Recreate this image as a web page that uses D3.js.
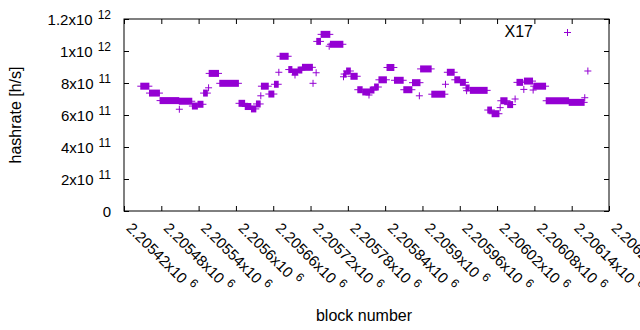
<!DOCTYPE html>
<html>
<head>
<meta charset="utf-8">
<script src="https://cdn.jsdelivr.net/npm/d3@7"></script>
<style>
  body { margin: 0; background: #fff; }
  svg text { font-family: "Liberation Sans", Arial, sans-serif; font-size: 15px; fill: #000; }
  svg text.title { font-size: 16px; }
</style>
</head>
<body>
<svg width="640" height="330"></svg>
<script>
// runs of blocks that share one hashrate estimate (start == end is a single point)
let runStart = [2205447, 2205461, 2205478, 2205509, 2205509, 2205530, 2205539, 2205548, 2205556, 2205557,
  2205574, 2205605, 2205615, 2205625, 2205633, 2205640, 2205641, 2205653, 2205662, 2205669,
  2205671, 2205685, 2205691, 2205695, 2205700, 2205707, 2205724, 2205729, 2205730, 2205737,
  2205750, 2205752, 2205773, 2205774, 2205778, 2205785, 2205796, 2205804, 2205814, 2205816,
  2205823, 2205830, 2205843, 2205855, 2205870, 2205884, 2205895, 2205897, 2205915, 2205937,
  2205940, 2205952, 2205961, 2205970, 2205971, 2205977, 2206005, 2206012, 2206025, 2206026,
  2206037, 2206049, 2206052, 2206063, 2206064, 2206078, 2206079, 2206099, 2206136, 2206161,
  2206166]
let runEnd = [2205460, 2205477, 2205508, 2205529, 2205509, 2205538, 2205547, 2205554, 2205556, 2205572,
  2205604, 2205614, 2205624, 2205632, 2205639, 2205640, 2205652, 2205661, 2205668, 2205669,
  2205684, 2205690, 2205699, 2205695, 2205706, 2205723, 2205724, 2205729, 2205736, 2205751,
  2205750, 2205772, 2205773, 2205777, 2205784, 2205795, 2205803, 2205815, 2205814, 2205822,
  2205829, 2205842, 2205854, 2205869, 2205883, 2205896, 2205895, 2205914, 2205936, 2205937,
  2205951, 2205960, 2205969, 2205975, 2205971, 2206004, 2206011, 2206023, 2206025, 2206036,
  2206045, 2206049, 2206061, 2206063, 2206077, 2206078, 2206098, 2206135, 2206160, 2206161,
  2206166]
let hashrate = [7.80e11, 7.37e11, 6.90e11, 6.86e11, 6.36e11, 6.56e11, 6.67e11, 7.37e11, 7.70e11, 8.60e11,
  7.98e11, 6.73e11, 6.53e11, 6.38e11, 6.69e11, 7.20e11, 7.80e11, 7.31e11, 7.92e11, 8.67e11,
  9.67e11, 8.84e11, 8.69e11, 8.50e11, 8.81e11, 8.98e11, 7.98e11, 8.64e11, 1.060e12, 1.104e12,
  1.030e12, 1.042e12, 8.39e11, 8.56e11, 8.75e11, 8.42e11, 7.58e11, 7.44e11, 7.25e11, 7.56e11,
  7.75e11, 8.20e11, 8.97e11, 8.17e11, 7.58e11, 8.02e11, 7.20e11, 8.88e11, 7.30e11, 7.92e11,
  8.67e11, 8.20e11, 8.04e11, 7.69e11, 7.52e11, 7.54e11, 6.31e11, 6.08e11, 6.46e11, 6.89e11,
  6.65e11, 7.00e11, 8.04e11, 7.60e11, 8.12e11, 7.56e11, 7.80e11, 6.89e11, 6.79e11, 7.08e11,
  8.75e11]

let xTicks = [2205420, 2205480, 2205540, 2205600, 2205660, 2205720, 2205780,
  2205840, 2205900, 2205960, 2206020, 2206080, 2206140, 2206200]
let yTicks = [0, 2e11, 4e11, 6e11, 8e11, 1e12, 1.2e12]
let seriesName = 'X17'
let color = '#9400d3'

let plotLeft = 124, plotRight = 609, plotTop = 19, plotBottom = 211

let runs = runStart.map(function (s, i) {
  return { start: s, end: runEnd[i], value: hashrate[i] }
})

let x = d3.scaleLinear().domain([2205420, 2206200]).range([plotLeft, plotRight])
let y = d3.scaleLinear().domain([0, 1.2e12]).range([plotBottom, plotTop])

let svg = d3.select('svg')

// split a number into mantissa and power of ten, gnuplot style "1.2x10^12"
function sciParts(v) {
  if (v === 0) return null
  let e = Math.floor(Math.log10(Math.abs(v)))
  let m = parseFloat((v / Math.pow(10, e)).toPrecision(6))
  return { m: m, e: e }
}

function writeSci(textSel, supDx, supDy) {
  textSel.each(function (v) {
    let t = d3.select(this).text(null)
    let p = sciParts(v)
    if (!p) { t.text('0'); return }
    t.append('tspan').text(p.m + 'x10')
    t.append('tspan').attr('dx', supDx).attr('dy', supDy)
      .style('font-size', '12px').text(p.e)
  })
}

// y axis, ticks pointing inward
let yAxis = svg.append('g')
  .attr('transform', 'translate(' + plotLeft + ',0)')
  .call(d3.axisLeft(y).tickValues(yTicks).tickSizeInner(-5).tickSizeOuter(0).tickPadding(13))
yAxis.select('.domain').remove()
yAxis.selectAll('text')
  .attr('dy', '0.36em')
  .call(writeSci, 5, -6)

svg.append('g')
  .attr('transform', 'translate(' + plotRight + ',0)')
  .call(d3.axisRight(y).tickValues(yTicks).tickSizeInner(-5).tickSizeOuter(0).tickFormat(''))
  .select('.domain').remove()

// x axis with rotated labels
let xAxis = svg.append('g')
  .attr('transform', 'translate(0,' + plotBottom + ')')
  .call(d3.axisBottom(x).tickValues(xTicks).tickSizeInner(-5).tickSizeOuter(0))
xAxis.select('.domain').remove()
xAxis.selectAll('text')
  .attr('y', 0).attr('dy', 0)
  .attr('text-anchor', 'start')
  .attr('transform', 'translate(1,18) rotate(45)')
  .call(writeSci, 5, -6)

svg.append('g')
  .attr('transform', 'translate(0,' + plotTop + ')')
  .call(d3.axisTop(x).tickValues(xTicks).tickSizeInner(-5).tickSizeOuter(0).tickFormat(''))
  .select('.domain').remove()

svg.selectAll('g.tick text').attr('fill', '#000')
svg.selectAll('.tick line').attr('stroke', '#000')
svg.selectAll('g[font-family]').attr('font-family', null).attr('font-size', null)

// frame
svg.append('rect')
  .attr('x', plotLeft).attr('y', plotTop)
  .attr('width', plotRight - plotLeft).attr('height', plotBottom - plotTop)
  .attr('fill', 'none').attr('stroke', '#000').attr('stroke-width', 1)

// points: each block gets a "+", consecutive blocks merge into a bar
let marks = svg.append('g').attr('class', 'points')

marks.selectAll('rect.run').data(runs).enter().append('rect')
  .attr('class', 'run')
  .attr('x', function (d) { return x(d.start) - 0.5 })
  .attr('width', function (d) { return x(d.end) - x(d.start) + 1 })
  .attr('y', function (d) { return y(d.value) - 3.5 })
  .attr('height', 7)
  .attr('fill', color)

marks.selectAll('line.run').data(runs).enter().append('line')
  .attr('class', 'run')
  .attr('x1', function (d) { return x(d.start) - 3.5 })
  .attr('x2', function (d) { return x(d.end) + 3.5 })
  .attr('y1', function (d) { return y(d.value) })
  .attr('y2', function (d) { return y(d.value) })
  .attr('stroke', color)
  .attr('stroke-width', 1)

// key
svg.append('text')
  .attr('class', 'title')
  .attr('x', 533).attr('y', 37)
  .attr('text-anchor', 'end')
  .text(seriesName)
let keyX = 567.5, keyY = 32.5
svg.append('path')
  .attr('d', 'M' + (keyX - 3.5) + ',' + keyY + 'H' + (keyX + 3.5) + 'M' + keyX + ',' + (keyY - 3.5) + 'V' + (keyY + 3.5))
  .attr('stroke', color)
  .attr('stroke-width', 1)

// axis titles
svg.append('text')
  .attr('class', 'title')
  .attr('transform', 'translate(21,115) rotate(-90)')
  .attr('text-anchor', 'middle')
  .text('hashrate [h/s]')

svg.append('text')
  .attr('class', 'title')
  .attr('x', 364).attr('y', 321)
  .attr('text-anchor', 'middle')
  .text('block number')
</script>
</body>
</html>
